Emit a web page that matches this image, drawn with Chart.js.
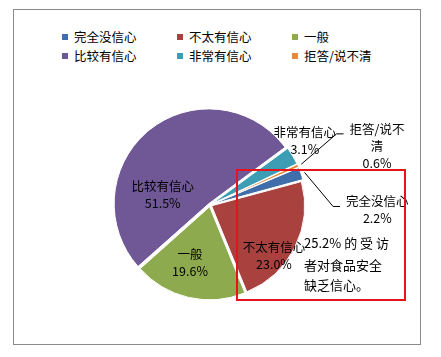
<!DOCTYPE html>
<html>
<head>
<meta charset="utf-8">
<script src="https://cdn.jsdelivr.net/npm/chart.js@4/dist/chart.umd.min.js"></script>
<style>
  html, body { margin:0; padding:0; background:#fff; }
  body { width:441px; height:357px; position:relative; overflow:hidden; font-family:"Noto Sans CJK SC", sans-serif; }
  #frame { position:absolute; left:13px; top:9px; width:406px; height:334px; border:1px solid #8a8a8a; }
  #legend { position:absolute; left:62px; top:27px; display:grid; grid-template-columns:115px 115px 115px; grid-auto-rows:19px; font-size:12.5px; color:#000; }
  .li { display:flex; align-items:center; white-space:nowrap; }
  .sw { width:6px; height:6px; margin-right:6px; flex:none; }
  canvas { position:absolute; left:0; top:0; }
  #note { position:absolute; left:236px; top:169px; width:166px; height:128px; border:2px solid #e3141c; }
  .nl { position:absolute; left:304px; font-size:13px; line-height:16px; color:#000; white-space:pre; }
</style>
</head>
<body>
<div id="frame"></div>
<div id="legend"></div>
<canvas id="c" width="441" height="357"></canvas>
<div id="note"></div>
<div class="nl" id="n1" style="top:235px"></div>
<div class="nl" id="n2" style="top:257px"></div>
<div class="nl" id="n3" style="top:277px"></div>
<script>
// ---- data ----
const categories = ["完全没信心", "不太有信心", "一般", "比较有信心", "非常有信心", "拒答/说不清"];
const values = [2.2, 23.0, 19.6, 51.5, 3.1, 0.6];
const colors = ["#3f6eaa", "#a9423f", "#8eaa4e", "#6f5895", "#3c9db5", "#e38a3c"];

// label placement (polar, relative to pie centre; angle clockwise from top, dist in radii)
const labelPlacement = [
  { angle: 91.7, dist: 1.80, leader: true,  wrap: 64 },
  { angle: 128.6, dist: 0.88, leader: false, wrap: 0 },
  { angle: 199, dist: 0.66, leader: false, wrap: 0 },
  { angle: 282, dist: 0.52, leader: false, wrap: 0 },
  { angle: 56, dist: 1.23, leader: false, wrap: 0 },
  { angle: 70.5, dist: 1.905, leader: true, wrap: 64 }
];

// legend
const lg = document.getElementById('legend');
categories.forEach((c, i) => {
  const d = document.createElement('div'); d.className = 'li';
  const s = document.createElement('span'); s.className = 'sw'; s.style.background = colors[i];
  const t = document.createElement('span'); t.textContent = c;
  d.appendChild(s); d.appendChild(t); lg.appendChild(d);
});

// note text
const lowConf = (values[0] + values[1]).toFixed(1);
document.getElementById('n1').textContent = lowConf + "% 的 受 访";
document.getElementById('n2').textContent = "者对食品安全";
document.getElementById('n3').textContent = "缺乏信心。";

const FONT = '12.5px "Noto Sans CJK SC", sans-serif';
function wrapText(ctx, text, maxW) {
  if (!maxW || ctx.measureText(text).width <= maxW) return [text];
  const lines = []; let cur = '';
  for (const ch of text) {
    if (ctx.measureText(cur + ch).width > maxW && cur) { lines.push(cur); cur = ch; }
    else cur += ch;
  }
  if (cur) lines.push(cur);
  return lines;
}

const sliceLabels = {
  id: 'sliceLabels',
  afterDatasetsDraw(chart) {
    const ctx = chart.ctx;
    const meta = chart.getDatasetMeta(0);
    const off = chart.data.datasets[0].offset || 0;
    ctx.save();
    ctx.font = FONT;
    ctx.fillStyle = '#000';
    ctx.textAlign = 'center';
    ctx.textBaseline = 'middle';
    meta.data.forEach((arc, i) => {
      const p = arc.getProps(['x', 'y', 'startAngle', 'endAngle', 'outerRadius'], true);
      const pl = labelPlacement[i];
      const a = (pl.angle - 90) * Math.PI / 180;
      const cx = p.x + Math.cos(a) * pl.dist * p.outerRadius;
      const cy = p.y + Math.sin(a) * pl.dist * p.outerRadius;
      const lines = wrapText(ctx, categories[i], pl.wrap).concat([values[i].toFixed(1) + '%']);
      const lh = 17;
      const y0 = cy - (lines.length - 1) * lh / 2;
      lines.forEach((ln, k) => ctx.fillText(ln, cx, y0 + k * lh));
      if (pl.leader) {
        const mid = (p.startAngle + p.endAngle) / 2;
        const sx = p.x + Math.cos(mid) * (p.outerRadius + off);
        const sy = p.y + Math.sin(mid) * (p.outerRadius + off);
        const left = cx - ctx.measureText(lines[0]).width / 2;
        const ey = y0 + 5;
        ctx.beginPath();
        ctx.strokeStyle = '#000';
        ctx.lineWidth = 1;
        ctx.moveTo(sx, sy);
        ctx.lineTo(left - 13, ey);
        ctx.lineTo(left - 6, ey);
        ctx.stroke();
      }
    });
    ctx.restore();
  }
};

new Chart(document.getElementById('c'), {
  type: 'pie',
  data: {
    labels: categories,
    datasets: [{
      data: values,
      backgroundColor: colors,
      borderColor: '#ffffff',
      borderWidth: 1,
      offset: 7
    }]
  },
  options: {
    responsive: false,
    animation: false,
    rotation: 67,
    layout: { padding: { left: 113, right: 134, top: 108, bottom: 55 } },
    plugins: { legend: { display: false }, tooltip: { enabled: false } }
  },
  plugins: [sliceLabels]
});
</script>
</body>
</html>
